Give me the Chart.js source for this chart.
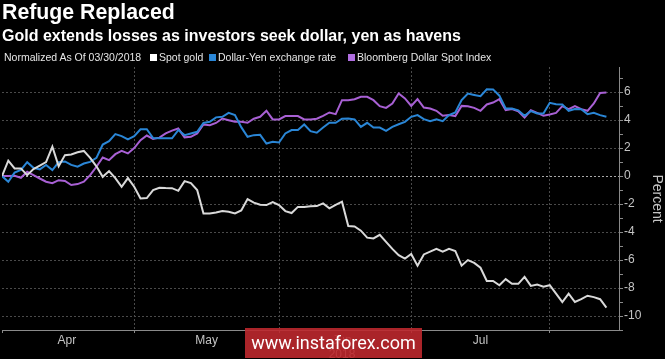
<!DOCTYPE html>
<html>
<head>
<meta charset="utf-8">
<script src="https://cdn.jsdelivr.net/npm/chart.js@4.4.1/dist/chart.umd.min.js"></script>
<style>
    html, body { margin: 0; padding: 0; background: #000; }
    #wrap { position: relative; width: 665px; height: 359px; overflow: hidden; background: #000; }
    #chart { position: absolute; left: 0; top: 0; }
    .txt { position: absolute; color: #fff; white-space: nowrap; font-family: "Liberation Sans", Roboto, sans-serif; }
    #title { left: 2px; top: 0px; font-size: 21.3px; font-weight: bold; }
    #subtitle { left: 2px; top: 27px; font-size: 16px; font-weight: bold; }
    .leg { top: 51px; font-size: 10.5px; color: #e6e6e6; }
    .sq { position: absolute; top: 54px; width: 7px; height: 7px; }
    #mark { position: absolute; left: 245px; top: 328px; width: 177px; height: 30px;
        background: rgba(188, 40, 46, 0.9); color: #fff; font-family: Roboto, "Liberation Sans", sans-serif;
        font-size: 18px; line-height: 30px; text-align: center; }
</style>
</head>
<body>
<div id="wrap">
    <canvas id="chart" width="665" height="359"></canvas>
    <div class="txt" id="title">Refuge Replaced</div>
    <div class="txt" id="subtitle">Gold extends losses as investors seek dollar, yen as havens</div>
    <div class="txt leg" style="left:4px">Normalized As Of 03/30/2018</div>
    <div class="sq" style="left:150px;background:#ffffff"></div>
    <div class="txt leg" style="left:159px">Spot gold</div>
    <div class="sq" style="left:209px;background:#2a86d6"></div>
    <div class="txt leg" style="left:218px">Dollar-Yen exchange rate</div>
    <div class="sq" style="left:348px;background:#b06ee0"></div>
    <div class="txt leg" style="left:357px">Bloomberg Dollar Spot Index</div>
    <div id="mark">www.instaforex.com</div>
</div>
<script>
// trading days since 03/30/2018, percent change
const spotGold = [
    0.0, 1.1, 0.55, 0.55, 0.07, 0.5, 0.75, 1.0, 2.1, 0.7,
    1.5, 1.55, 1.7, 1.8, 1.3, 0.7, -0.05, 0.36, -0.14, -0.76,
    -0.14, -0.76, -1.6, -1.57, -1.0, -0.83, -0.85, -0.86, -1.05, -0.36,
    -0.5, -1.0, -2.67, -2.67, -2.6, -2.5, -2.55, -2.67, -2.45, -1.64,
    -1.9, -2.05, -2.07, -1.86, -2.07, -2.5, -2.64, -2.2, -2.2, -2.15,
    -2.14, -1.95, -2.3, -2.05, -1.83, -3.57, -3.6, -3.9, -4.4, -4.45,
    -4.2, -4.7, -5.2, -5.65, -5.9, -5.57, -6.4, -5.6, -5.4, -5.2,
    -5.4, -5.2, -5.35, -6.4, -6.0, -6.2, -6.55, -7.5, -7.5, -7.8,
    -7.36, -7.7, -7.7, -7.2, -7.85, -7.75, -7.9, -7.8, -8.4, -9.0,
    -8.4, -9.0, -8.8, -8.55, -8.65, -8.8, -9.4
];
const dollarYen = [
    0.0, -0.4, 0.25, 0.45, 1.0, 0.6, 0.48, 0.8, 0.43, 1.0,
    1.05, 0.8, 0.67, 0.9, 1.02, 1.3, 2.26, 2.5, 3.0, 2.86,
    2.62, 2.85, 3.35, 3.35, 2.72, 2.7, 2.7, 2.7, 3.29, 2.93,
    3.05, 3.17, 3.8, 3.88, 4.2, 4.24, 4.52, 4.36, 3.5, 2.81,
    2.93, 2.95, 2.33, 2.45, 2.4, 3.05, 3.29, 3.3, 3.69, 3.21,
    3.1, 3.47, 3.81, 3.81, 4.1, 4.12, 4.05, 3.52, 3.81, 3.47,
    3.47, 3.24, 3.52, 3.71, 3.88, 4.24, 4.36, 4.07, 3.93, 4.07,
    3.93, 4.36, 4.55, 5.43, 5.9, 5.8, 5.71, 6.21, 6.2, 5.75,
    4.83, 4.83, 4.7, 4.31, 4.65, 4.48, 4.48, 5.24, 5.14, 5.12,
    4.67, 4.79, 4.78, 4.43, 4.52, 4.36, 4.24
];
const dollarIndex = [
    0.0, 0.01, 0.02, -0.12, 0.31, 0.07, -0.17, -0.4, -0.5, -0.29,
    -0.35, -0.64, -0.57, -0.4, 0.07, 0.67, 1.33, 1.14, 1.57, 1.81,
    1.62, 2.0, 2.57, 2.9, 2.66, 2.75, 3.05, 3.25, 3.4, 2.77,
    2.81, 3.05, 3.69, 3.64, 3.8, 4.12, 4.0, 3.88, 3.88, 3.81,
    4.1, 4.24, 4.67, 4.05, 4.05, 4.29, 4.29, 4.29, 4.05, 4.05,
    4.1, 4.31, 4.55, 4.43, 5.43, 5.43, 5.5, 5.67, 5.67, 5.43,
    5.0, 4.88, 5.19, 5.9, 5.55, 5.02, 5.5, 4.9, 4.83, 4.67,
    4.31, 4.36, 4.29, 5.02, 5.0, 4.88, 4.67, 5.12, 5.26, 5.5,
    4.71, 4.79, 4.64, 4.19, 4.71, 4.52, 4.31, 4.4, 4.52, 5.0,
    4.79, 5.0, 4.79, 4.67, 5.19, 5.95, 5.98
];
// month boundaries and label positions, in trading days
const monthStarts = [0, 21, 44, 65, 87];
const monthMids = [10.3, 32.5, 54, 76];
const monthLabels = [`Apr`, `May`, [`Jun`, `2018`], `Jul`];
const yTicks = [-11, -10, -9, -8, -7, -6, -5, -4, -3, -2, -1, 0, 1, 2, 3, 4, 5, 6, 7];
//
function toPoints(values) {
    return values.map((v, i) => ({ x: i, y: v }));
}
//
function lineSet(label, values, color) {
    return {
        label: label,
        data: toPoints(values),
        borderColor: color,
        borderWidth: 2,
        pointRadius: 0,
        tension: 0
    }
}
//
new Chart(`chart`, {
    type: `line`,
    data: {
        datasets: [
            lineSet(`Spot gold`, spotGold, `#d9d9d9`),
            lineSet(`Dollar-Yen exchange rate`, dollarYen, `#2a86d6`),
            lineSet(`Bloomberg Dollar Spot Index`, dollarIndex, `#a860d4`)
        ]
    },
    options: {
        responsive: false,
        animation: false,
        layout: { padding: { top: 67, left: 2, right: 0, bottom: 0 } },
        plugins: {
            legend: { display: false },
            tooltip: { enabled: false }
        },
        scales: {
            x: {
                type: `linear`,
                min: 0,
                max: 98,
                afterBuildTicks: scale => {
                    const ticks = monthStarts.map(v => ({ value: v }))
                        .concat(monthMids.map(v => ({ value: v })));
                    scale.ticks = ticks.sort((a, b) => a.value - b.value);
                },
                afterFit: scale => { scale.height = 29 },
                ticks: {
                    autoSkip: false,
                    maxRotation: 0,
                    padding: 0,
                    color: `#c4c4c4`,
                    font: { size: 12, family: `"Liberation Sans", sans-serif` },
                    callback: value => {
                        const k = monthMids.indexOf(value);
                        return k >= 0 ? monthLabels[k] : ``;
                    }
                },
                grid: {
                    color: ctx => (ctx.tick && monthStarts.includes(ctx.tick.value) && ctx.tick.value > 0) ? `#4a4a4a` : `transparent`,
                    tickColor: ctx => (ctx.tick && monthStarts.includes(ctx.tick.value)) ? `#8a8a8a` : `transparent`,
                    tickLength: 3,
                    lineWidth: 1
                },
                border: { display: true, color: `#8a8a8a`, width: 1, dash: [2, 2] }
            },
            y: {
                position: `right`,
                min: -11,
                max: 7.8,
                afterBuildTicks: scale => {
                    scale.ticks = yTicks.map(v => ({ value: v }));
                },
                afterFit: scale => { scale.width = 46 },
                ticks: {
                    autoSkip: false,
                    padding: 1,
                    color: `#c4c4c4`,
                    font: { size: 12, family: `"Liberation Sans", sans-serif` },
                    callback: value => (value % 2 === 0 ? value : ``)
                },
                grid: {
                    color: ctx => {
                        if (!ctx.tick || ctx.tick.value % 2 !== 0) return `transparent`;
                        return ctx.tick.value === 0 ? `#a8a8a8` : `#4a4a4a`;
                    },
                    tickColor: `#8a8a8a`,
                    tickLength: 4,
                    lineWidth: 1
                },
                border: { display: true, color: `#8a8a8a`, width: 1, dash: [2, 2] },
                title: {
                    display: true,
                    text: `Percent`,
                    color: `#c4c4c4`,
                    font: { size: 14, family: `"Liberation Sans", sans-serif` },
                    padding: 0
                }
            }
        }
    }
});
</script>
</body>
</html>
